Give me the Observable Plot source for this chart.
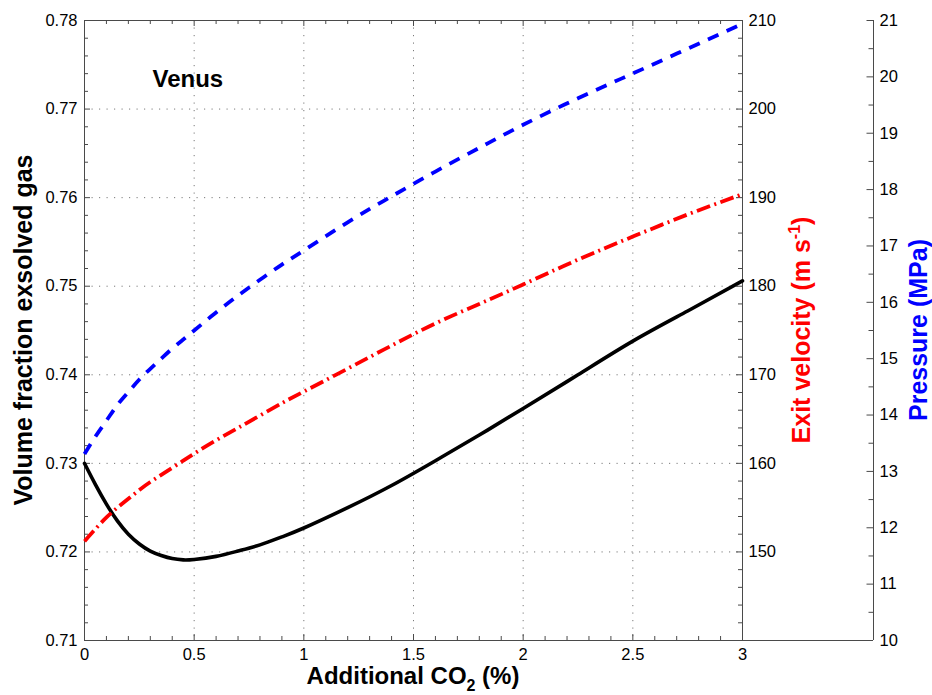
<!DOCTYPE html>
<html>
<head>
<meta charset="utf-8">
<script src="https://cdn.jsdelivr.net/npm/d3@7"></script>
<script src="https://cdn.jsdelivr.net/npm/@observablehq/plot@0.6"></script>
<style>
  body { margin: 0; background: #fff; }
  #chart { position: relative; width: 932px; height: 695px; }
  #chart svg { position: absolute; left: 0; top: 0; }
</style>
</head>
<body>
<div id="chart"></div>
<script>
// Additional CO2 (%) at which each quantity was computed
const co2 = [0, 0.05, 0.1, 0.15, 0.2, 0.25, 0.3, 0.35, 0.4, 0.45, 0.5, 0.6, 0.7, 0.8, 0.9,
             1.0, 1.2, 1.4, 1.6, 1.8, 2.0, 2.25, 2.5, 2.75, 3.0];
// Volume fraction of exsolved gas (left axis, black)
const volumeFraction = [0.7300, 0.7276, 0.7254, 0.7235, 0.7220, 0.7209, 0.7201, 0.7196, 0.71925, 0.7191,
                        0.71915, 0.7195, 0.7201, 0.7208, 0.7217, 0.7227, 0.7250, 0.7275, 0.7303, 0.7332,
                        0.7362, 0.7400, 0.7438, 0.7472, 0.7506];
// Exit velocity in m/s (first right axis, red)
const exitVelocity = [151.2, 152.6, 153.9, 155.0, 156.0, 157.0, 157.9, 158.7, 159.5, 160.3,
                      161.1, 162.6, 164.0, 165.4, 166.8, 168.1, 170.7, 173.3, 175.8, 178.0,
                      180.2, 183.0, 185.6, 188.1, 190.4];
// Pressure in MPa (second right axis, blue)
const pressure = [13.31, 13.62, 13.90, 14.18, 14.41, 14.63, 14.82, 15.00, 15.18, 15.34,
                  15.50, 15.82, 16.12, 16.40, 16.67, 16.92, 17.42, 17.88, 18.32, 18.74,
                  19.15, 19.62, 20.06, 20.50, 20.94];

// Tick labels
const co2Ticks = [0, 0.5, 1, 1.5, 2, 2.5, 3];
const fractionTicks = [0.71, 0.72, 0.73, 0.74, 0.75, 0.76, 0.77, 0.78];
const velocityTicks = [150, 160, 170, 180, 190, 200, 210];
const pressureTicks = [10, 11, 12, 13, 14, 15, 16, 17, 18, 19, 20, 21];

// Layout
const W = 932, H = 695;
const M = {top: 20, right: 190, bottom: 55, left: 84};
const frameW = W - M.left - M.right;
const frameH = H - M.top - M.bottom;
const pressureAxisX = 873;
const pressureFrameW = pressureAxisX - M.left;
const axisColor = "#4a4a4a";
const gridColor = "#7a7a7a";
const font = "'Liberation Sans', Arial, Helvetica, sans-serif";
const majorLen = 6, minorLen = 4;

const rows = co2.map((x, i) => ({
  x, fraction: volumeFraction[i], velocity: exitVelocity[i], pressure: pressure[i]
}));

// Minor tick positions
const co2Minor = d3.range(0, 31).map(i => i / 10).filter(v => !co2Ticks.includes(v));
const fractionMinor = d3.range(0, 36).map(i => +(0.71 + i * 0.002).toFixed(3))
  .filter(v => !fractionTicks.includes(v));
const velocityMinor = d3.range(140, 211, 2).filter(v => v % 10 !== 0);
const pressureMinor = d3.range(10.5, 21, 1);

const baseStyle = {fontFamily: font, fontSize: "16.5px", color: "black", background: "transparent"};

// Main axes: volume fraction vs additional CO2
const main = Plot.plot({
  width: W, height: H,
  marginTop: M.top, marginRight: M.right, marginBottom: M.bottom, marginLeft: M.left,
  x: {domain: [0, 3]},
  y: {domain: [0.71, 0.78]},
  style: {...baseStyle, background: "white"},
  marks: [
    Plot.gridX(co2Ticks.slice(1, -1), {stroke: gridColor, strokeOpacity: 1, strokeDasharray: "1.2,6.3"}),
    Plot.gridY(fractionTicks.slice(1, -1), {stroke: gridColor, strokeOpacity: 1, strokeDasharray: "1.2,6.3"}),
    Plot.frame({stroke: axisColor}),
    // inward ticks: left, bottom and top edges
    Plot.tickY(fractionTicks, {y: d => d, insetRight: frameW - majorLen, stroke: axisColor}),
    Plot.tickY(fractionMinor, {y: d => d, insetRight: frameW - minorLen, stroke: axisColor}),
    Plot.tickX(co2Ticks, {x: d => d, insetTop: frameH - majorLen, stroke: axisColor}),
    Plot.tickX(co2Minor, {x: d => d, insetTop: frameH - minorLen, stroke: axisColor}),
    Plot.tickX(co2Ticks, {x: d => d, insetBottom: frameH - majorLen, stroke: axisColor}),
    Plot.tickX(co2Minor, {x: d => d, insetBottom: frameH - minorLen, stroke: axisColor}),
    Plot.axisX(co2Ticks, {anchor: "bottom", tickSize: 0, tickPadding: 8, label: null, tickFormat: d => String(d)}),
    Plot.axisY(fractionTicks, {anchor: "left", tickSize: 0, tickPadding: 7, label: null, tickFormat: d3.format(".2f")}),
    Plot.line(rows, {x: "x", y: "fraction", stroke: "black", strokeWidth: 3.6, curve: "natural"}),
    Plot.text(["Venus"], {frameAnchor: "top-left", dx: 68, dy: 66, textAnchor: "start", lineAnchor: "bottom",
      fontSize: 24, fontWeight: "bold", fill: "black"})
  ]
});

// Exit velocity axes, sharing the frame
const velocityPlot = Plot.plot({
  width: W, height: H,
  marginTop: M.top, marginRight: M.right, marginBottom: M.bottom, marginLeft: M.left,
  x: {domain: [0, 3], axis: null},
  y: {domain: [140, 210]},
  style: baseStyle,
  marks: [
    Plot.tickY([140, ...velocityTicks], {y: d => d, insetLeft: frameW - majorLen, stroke: axisColor}),
    Plot.tickY(velocityMinor, {y: d => d, insetLeft: frameW - minorLen, stroke: axisColor}),
    Plot.axisY(velocityTicks, {anchor: "right", tickSize: 0, tickPadding: 6, label: null, tickFormat: d => String(d)}),
    Plot.line(rows, {x: "x", y: "velocity", stroke: "#ff0000", strokeWidth: 3.8,
      strokeDasharray: "14,4.5,2,4.5", strokeLinecap: "butt", curve: "natural"})
  ]
});

// Pressure axes, with its own axis further right
const pressurePlot = Plot.plot({
  width: W, height: H,
  marginTop: M.top, marginRight: W - pressureAxisX, marginBottom: M.bottom, marginLeft: M.left,
  x: {domain: [0, 3], range: [M.left, W - M.right], axis: null},
  y: {domain: [10, 21]},
  style: baseStyle,
  marks: [
    Plot.ruleY([10], {stroke: axisColor}),
    Plot.tickY(pressureTicks, {y: d => d, insetLeft: pressureFrameW - 6.5, stroke: axisColor}),
    Plot.tickY(pressureMinor, {y: d => d, insetLeft: pressureFrameW - 4.5, stroke: axisColor}),
    Plot.axisY(pressureTicks, {anchor: "right", tickSize: 0, tickPadding: 6, label: null, tickFormat: d => String(d)}),
    Plot.line(rows, {x: "x", y: "pressure", stroke: "#0000ff", strokeWidth: 3.8,
      strokeDasharray: "11.5,9", strokeLinecap: "butt", curve: "natural"})
  ]
});

// Pressure axis line
d3.select(pressurePlot).append("line")
  .attr("x1", pressureAxisX + 0.5).attr("x2", pressureAxisX + 0.5)
  .attr("y1", M.top).attr("y2", H - M.bottom)
  .attr("stroke", axisColor);

// Axis titles
function addTitle(svg, x, y, rotate, color, size, parts) {
  const t = d3.select(svg).append("text")
    .attr("transform", `translate(${x},${y})` + (rotate ? " rotate(-90)" : ""))
    .attr("text-anchor", "middle")
    .attr("font-family", font)
    .attr("font-size", size)
    .attr("font-weight", "bold")
    .attr("fill", color);
  for (const p of parts) {
    const s = t.append("tspan").text(p.text);
    if (p.size) s.attr("font-size", p.size);
    if (p.dy) s.attr("dy", p.dy);
  }
}

addTitle(main, 32, 330, true, "black", 25, [{text: "Volume fraction exsolved gas"}]);
addTitle(main, 413, 684, false, "black", 24, [
  {text: "Additional CO"}, {text: "2", size: 16, dy: 7}, {text: " (%)", dy: -7}
]);
addTitle(pressurePlot, 810, 330, true, "#ff0000", 25, [
  {text: "Exit velocity (m s"}, {text: "-1", size: 16, dy: -10}, {text: ")", dy: 10}
]);
addTitle(pressurePlot, 927, 330, true, "#0000ff", 25, [{text: "Pressure (MPa)"}]);

const chart = document.getElementById("chart");
chart.append(main, velocityPlot, pressurePlot);
</script>
</body>
</html>
